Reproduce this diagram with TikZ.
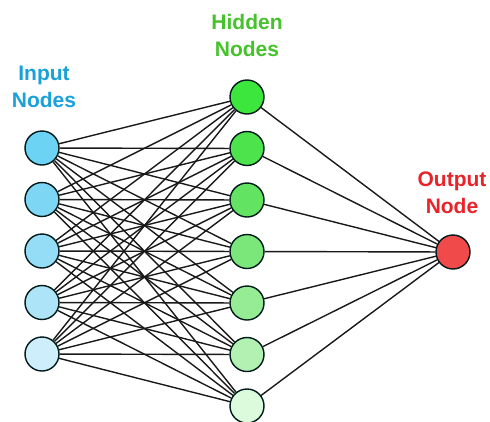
\documentclass[tikz,border=0pt]{standalone}
\usepackage{fontspec}
\setmainfont{Liberation Sans}
\usetikzlibrary{backgrounds}
\begin{document}
\begin{tikzpicture}[x=1pt,y=-1pt,
  neuron/.style={circle,draw=black!80!teal,line width=1.4pt,minimum size=34pt,inner sep=0pt},
  edge/.style={draw=black!90,line width=1.4pt},
  lbl/.style={font=\fontsize{21}{27}\selectfont\bfseries,align=center}]
\definecolor{in1}{HTML}{6CD3F5}
\definecolor{in2}{HTML}{7DD6F4}
\definecolor{in3}{HTML}{95DDF6}
\definecolor{in4}{HTML}{AEE4F7}
\definecolor{in5}{HTML}{CDEEFA}
\definecolor{h1}{HTML}{3DE63D}
\definecolor{h2}{HTML}{4CE34C}
\definecolor{h3}{HTML}{62E462}
\definecolor{h4}{HTML}{7BE77B}
\definecolor{h5}{HTML}{95EC95}
\definecolor{h6}{HTML}{B2F1B2}
\definecolor{h7}{HTML}{DCFADC}
\definecolor{outc}{HTML}{F04A4A}
\definecolor{bluet}{HTML}{1AA1DA}
\definecolor{greent}{HTML}{46C22C}
\definecolor{redt}{HTML}{E8242A}
\useasboundingbox (0,0) rectangle (490,421);
\foreach \i/\y in {1/148,2/199.5,3/251,4/302.5,5/354}
  \node[neuron,fill=in\i] (i\i) at (42,\y) {};
\foreach \j/\y in {1/97,2/148.5,3/200,4/251.5,5/303,6/354.5,7/406}
  \node[neuron,fill=h\j] (h\j) at (247,\y) {};
\node[neuron,fill=outc] (o) at (453,252) {};
\begin{scope}[on background layer]
  \fill[white] (0,0) rectangle (490,421);
  \foreach \i in {1,...,5}
    \foreach \j in {1,...,7}
      \draw[edge] (i\i) -- (h\j);
  \foreach \j in {1,...,7}
    \draw[edge] (h\j) -- (o);
\end{scope}
\node[lbl,text=bluet] (tin) at (44,87) {Input\\Nodes};
\node[lbl,text=greent] (thid) at (247,35) {Hidden\\Nodes};
\node[lbl,text=redt] (tout) at (452,193) {Output\\Node};
\end{tikzpicture}
\end{document}
